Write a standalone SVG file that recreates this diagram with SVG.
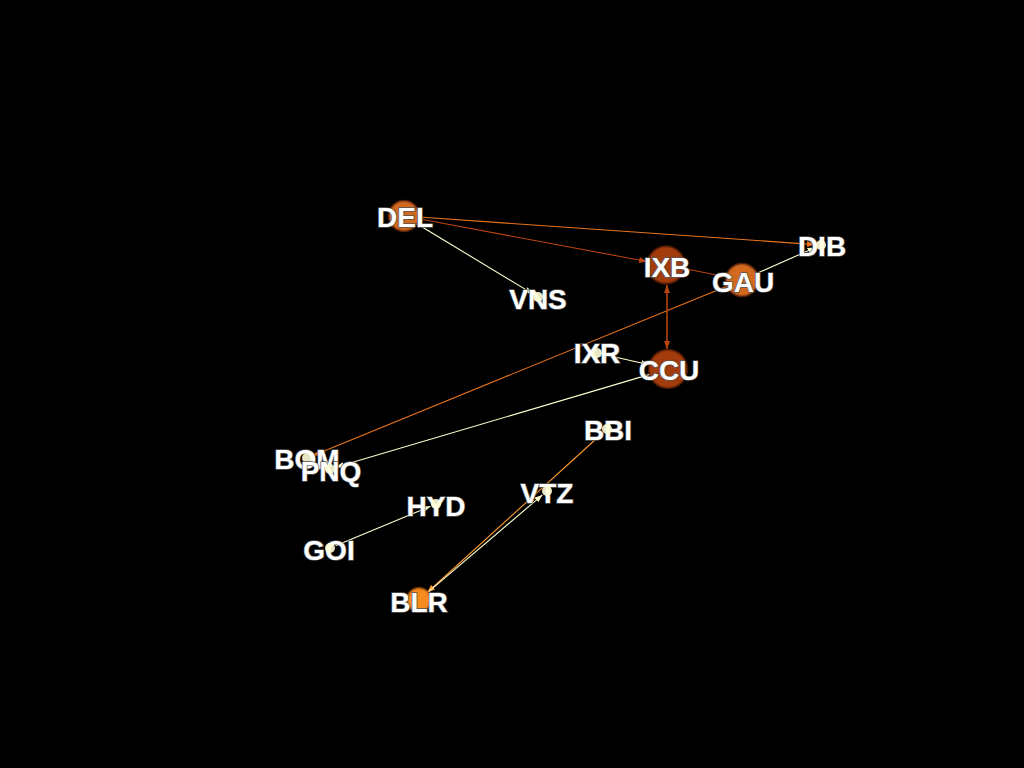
<svg xmlns="http://www.w3.org/2000/svg" width="1024" height="768" viewBox="0 0 1024 768">
<style>
.bg{fill:#000}
.e{fill:none;stroke-width:1.1}
.or{stroke:#e8741c}
.dk{stroke:#b8440e}
.pl{stroke:#ffffd0}
.lo{stroke:#ff9a2a}
.big{stroke-width:2.5;stroke-opacity:0.6}
.sm{fill:#ffffd9;fill-opacity:0.9}
.lbl{font-family:"Liberation Sans",Arial,sans-serif;font-weight:bold;font-size:28px;fill:#fff;stroke:#555;stroke-width:1.5;paint-order:stroke;text-anchor:middle}
</style>
<defs>
<marker id="mo" markerUnits="userSpaceOnUse" markerWidth="8" markerHeight="6" refX="8" refY="3" orient="auto"><path d="M0,0L8,3L0,6z" fill="#e8741c"/></marker>
<marker id="md" markerUnits="userSpaceOnUse" markerWidth="8" markerHeight="6" refX="8" refY="3" orient="auto"><path d="M0,0L8,3L0,6z" fill="#b8440e"/></marker>
<marker id="mp" markerUnits="userSpaceOnUse" markerWidth="8" markerHeight="6" refX="8" refY="3" orient="auto"><path d="M0,0L8,3L0,6z" fill="#ffffd0"/></marker>
<marker id="ml" markerUnits="userSpaceOnUse" markerWidth="8" markerHeight="6" refX="8" refY="3" orient="auto"><path d="M0,0L8,3L0,6z" fill="#ff9a2a"/></marker>
</defs>
<rect class="bg" x="0" y="0" width="1024" height="768"/>
<g id="edges">
<line class="e or" x1="419" y1="217" x2="815" y2="244.6" marker-end="url(#mo)"/>
<line class="e dk" x1="418.7" y1="218.8" x2="647" y2="261.5" marker-end="url(#md)"/>
<line class="e dk" x1="684" y1="268.5" x2="725.5" y2="276.8" marker-end="url(#md)"/>
<line class="e pl" x1="756.6" y1="273.5" x2="815.5" y2="247.4" marker-end="url(#mp)"/>
<line class="e pl" x1="416.8" y1="223.8" x2="532.9" y2="293.9" marker-end="url(#mp)"/>
<line class="e or" x1="728.1" y1="285.7" x2="312.6" y2="455.7" marker-end="url(#mo)"/>
<line class="e dk" x1="667" y1="285" x2="667" y2="349" marker-end="url(#md)"/>
<line class="e dk" x1="667" y1="349" x2="667" y2="285" marker-end="url(#md)"/>
<line class="e pl" x1="602.8" y1="354.3" x2="649" y2="364.7" marker-end="url(#mp)"/>
<line class="e pl" x1="649.8" y1="374.4" x2="335.8" y2="467.3" marker-end="url(#mp)"/>
<line class="e lo" x1="602.6" y1="433" x2="427.2" y2="592.5" marker-end="url(#ml)"/>
<line class="e pl" x1="428.1" y1="592.2" x2="542.4" y2="494.9" marker-end="url(#mp)"/>
<line class="e pl" x1="335.5" y1="545.7" x2="430.5" y2="506.3" marker-end="url(#mp)"/>
</g>
<g id="node-DEL"><circle cx="404" cy="216" r="15" fill="#d2691e" stroke="#8b3a0f" class="big"/><text class="lbl" x="405" y="227">DEL</text></g>
<g id="node-VNS"><text class="lbl" x="538" y="309">VNS</text><circle cx="538" cy="297" r="5" class="sm"/></g>
<g id="node-IXB"><circle cx="666" cy="265" r="18.5" fill="#a33c0c" stroke="#6e2506" class="big"/><text class="lbl" x="667" y="277">IXB</text></g>
<g id="node-GAU"><circle cx="742" cy="280" r="16" fill="#d2691e" stroke="#8b3a0f" class="big"/><text class="lbl" x="743" y="292">GAU</text></g>
<g id="node-DIB"><text class="lbl" x="822" y="256">DIB</text><circle cx="821" cy="245" r="5" class="sm"/></g>
<g id="node-IXR"><text class="lbl" x="597" y="363">IXR</text><circle cx="597" cy="353" r="5" class="sm"/></g>
<g id="node-CCU"><circle cx="668" cy="369" r="19" fill="#a33c0c" stroke="#6e2506" class="big"/><text class="lbl" x="669" y="380">CCU</text></g>
<g id="node-BBI"><text class="lbl" x="608" y="440">BBI</text><circle cx="607" cy="429" r="5" class="sm"/></g>
<g id="node-BOM"><text class="lbl" x="307" y="469">BOM</text><circle cx="307" cy="458" r="5" class="sm"/></g>
<g id="node-PNQ"><text class="lbl" x="331" y="481">PNQ</text><circle cx="330" cy="469" r="5" class="sm"/></g>
<g id="node-HYD"><text class="lbl" x="436" y="516">HYD</text><circle cx="436" cy="504" r="5" class="sm"/></g>
<g id="node-VTZ"><text class="lbl" x="547" y="503">VTZ</text><circle cx="547" cy="491" r="5" class="sm"/></g>
<g id="node-GOI"><text class="lbl" x="329" y="560">GOI</text><circle cx="330" cy="548" r="5" class="sm"/></g>
<g id="node-BLR"><circle cx="419" cy="600" r="12" fill="#f58a1f" stroke="#a0520f" class="big"/><text class="lbl" x="419" y="612">BLR</text></g>
</svg>
